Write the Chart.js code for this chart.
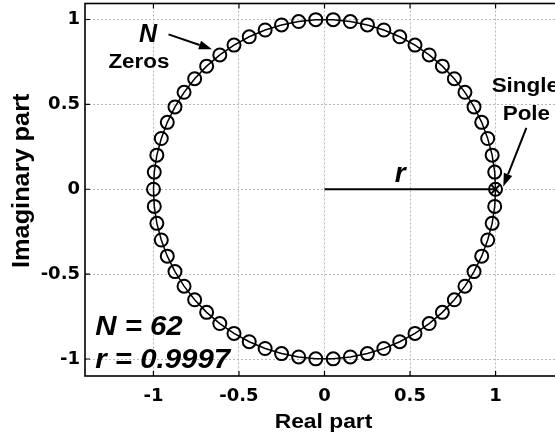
<!DOCTYPE html>
<html>
<head>
<meta charset="utf-8">
<script src="https://cdn.jsdelivr.net/npm/chart.js@4/dist/chart.umd.min.js"></script>
<style>
  html, body { margin: 0; padding: 0; background: #fff; overflow: hidden; }
  #wrap { position: absolute; left: 0; top: -6px; width: 600px; height: 445px; }
  #c { display: block; }
</style>
</head>
<body>
<div id="wrap"><canvas id="c" width="600" height="445"></canvas></div>
<script>
// Zeros of the filter (real and imaginary parts), N evenly spaced on radius r
const zeroReal = [
  0.9997, 0.995, 0.980, 0.954, 0.919, 0.874, 0.821, 0.759, 0.689, 0.612, 0.529,
  0.440, 0.347, 0.251, 0.151, 0.051, -0.051, -0.151, -0.251, -0.347, -0.440,
  -0.529, -0.612, -0.689, -0.759, -0.821, -0.874, -0.919, -0.954, -0.980, -0.995,
  -0.9997, -0.995, -0.980, -0.954, -0.919, -0.874, -0.821, -0.759, -0.689, -0.612,
  -0.529, -0.440, -0.347, -0.251, -0.151, -0.051, 0.051, 0.151, 0.251, 0.347,
  0.440, 0.529, 0.612, 0.689, 0.759, 0.821, 0.874, 0.919, 0.954, 0.980, 0.995
];
const zeroImag = [
  0, 0.101, 0.201, 0.299, 0.394, 0.485, 0.571, 0.651, 0.725, 0.791, 0.849,
  0.898, 0.938, 0.968, 0.988, 0.999, 0.999, 0.988, 0.968, 0.938, 0.898,
  0.849, 0.791, 0.725, 0.651, 0.571, 0.485, 0.394, 0.299, 0.201, 0.101,
  0, -0.101, -0.201, -0.299, -0.394, -0.485, -0.571, -0.651, -0.725, -0.791,
  -0.849, -0.898, -0.938, -0.968, -0.988, -0.999, -0.999, -0.988, -0.968, -0.938,
  -0.898, -0.849, -0.791, -0.725, -0.651, -0.571, -0.485, -0.394, -0.299, -0.201, -0.101
];
// Single pole
const poleReal = [0.9997];
const poleImag = [0];
const zeroCount = 62;
const radiusValue = 0.9997;

// Axis ticks
const xTicks = [-1, -0.5, 0, 0.5, 1];
const xTickLabels = ['-1', '-0.5', '0', '0.5', '1'];
const yTicks = [-1, -0.5, 0, 0.5, 1];
const yTickLabels = ['-1', '-0.5', '0', '0.5', '1'];

const zeroPoints = zeroReal.map((v, i) => ({ x: v, y: zeroImag[i] }));
const circlePoints = zeroPoints.concat([zeroPoints[0]]);
const polePoints = poleReal.map((v, i) => ({ x: v, y: poleImag[i] }));
const radiusPoints = [{ x: 0, y: 0 }, { x: poleReal[0], y: poleImag[0] }];

const SANS = '"Liberation Sans", Arial, Helvetica, sans-serif';

function drawLabel(ctx, text, px, py, font, stretch, align, rot) {
  ctx.save();
  ctx.translate(px, py);
  if (rot) ctx.rotate(rot);
  ctx.scale(stretch, 1);
  ctx.font = font;
  ctx.textAlign = align;
  ctx.textBaseline = 'alphabetic';
  ctx.fillStyle = '#000';
  ctx.fillText(text, 0, 0);
  ctx.restore();
}

function drawArrow(ctx, x1, y1, x2, y2) {
  const ang = Math.atan2(y2 - y1, x2 - x1);
  const head = 13, half = 4.5;
  const bx = x2 - head * Math.cos(ang), by = y2 - head * Math.sin(ang);
  ctx.save();
  ctx.strokeStyle = '#000';
  ctx.fillStyle = '#000';
  ctx.lineWidth = 2;
  ctx.beginPath();
  ctx.moveTo(x1, y1);
  ctx.lineTo(bx, by);
  ctx.stroke();
  ctx.beginPath();
  ctx.moveTo(x2, y2);
  ctx.lineTo(bx + half * Math.sin(ang), by - half * Math.cos(ang));
  ctx.lineTo(bx - half * Math.sin(ang), by + half * Math.cos(ang));
  ctx.closePath();
  ctx.fill();
  ctx.restore();
}

const overlay = {
  id: 'overlay',
  afterDraw(chart) {
    const { ctx, chartArea: a, scales: { x, y } } = chart;
    const X = v => x.getPixelForValue(v);
    const Y = v => y.getPixelForValue(v);
    ctx.save();
    // axes box
    ctx.strokeStyle = '#000';
    ctx.lineWidth = 1.6;
    ctx.strokeRect(a.left, a.top + 1, a.right - a.left, a.bottom - a.top - 1);
    // inward tick marks on all sides
    ctx.lineWidth = 1.2;
    ctx.beginPath();
    xTicks.forEach(v => {
      const px = X(v);
      ctx.moveTo(px, a.bottom); ctx.lineTo(px, a.bottom - 5);
      ctx.moveTo(px, a.top + 1); ctx.lineTo(px, a.top + 6);
    });
    yTicks.forEach(v => {
      const py = Y(v);
      ctx.moveTo(a.left, py); ctx.lineTo(a.left + 5, py);
      ctx.moveTo(a.right, py); ctx.lineTo(a.right - 5, py);
    });
    ctx.stroke();
    ctx.restore();

    // axis titles
    drawLabel(ctx, 'Real part', (a.left + a.right) / 2 - 1, a.bottom + 51.5, 'bold 21px ' + SANS, 1.087, 'center');
    drawLabel(ctx, 'Imaginary part', 28.5, Y(0.05), 'bold 23px ' + SANS, 1.10, 'center', -Math.PI / 2);

    // annotations
    drawLabel(ctx, 'N', X(-1.032), Y(0.868), 'italic bold 25px ' + SANS, 1, 'center');
    drawLabel(ctx, 'Zeros', X(-1.085), Y(0.713), 'bold 20px ' + SANS, 1.12, 'center');
    drawArrow(ctx, X(-0.912), Y(0.912), X(-0.658), Y(0.825));

    drawLabel(ctx, 'Single', X(1.174), Y(0.571), 'bold 21px ' + SANS, 1.07, 'center');
    drawLabel(ctx, 'Pole', X(1.18), Y(0.406), 'bold 21px ' + SANS, 1.07, 'center');
    drawArrow(ctx, X(1.18), Y(0.361), X(1.045), Y(0.016));

    drawLabel(ctx, 'r', X(0.443), Y(0.045), 'italic bold 28px ' + SANS, 1, 'center');
    drawLabel(ctx, 'N = ' + zeroCount, X(-1.34), Y(-0.857), 'italic bold 28px ' + SANS, 1.05, 'left');
    drawLabel(ctx, 'r = ' + radiusValue, X(-1.34), Y(-1.053), 'italic bold 28px ' + SANS, 1.05, 'left');
  }
};

const tickFont = { family: '"DejaVu Sans", sans-serif', size: 18, weight: 'bold' };

new Chart(document.getElementById('c'), {
  type: 'scatter',
  data: {
    datasets: [
      {
        label: 'Pole',
        data: polePoints,
        pointStyle: 'crossRot',
        pointRadius: 6.5,
        borderColor: '#000',
        borderWidth: 2,
        showLine: false,
        order: 0
      },
      {
        label: 'Zeros',
        data: zeroPoints,
        pointStyle: 'circle',
        pointRadius: 6.5,
        backgroundColor: 'rgba(0,0,0,0)',
        borderColor: '#000',
        borderWidth: 2,
        showLine: false,
        order: 1
      },
      {
        label: 'r',
        data: radiusPoints,
        showLine: true,
        pointRadius: 0,
        borderColor: '#000',
        borderWidth: 2,
        order: 2
      },
      {
        label: 'Circle',
        data: circlePoints,
        showLine: true,
        pointRadius: 0,
        borderColor: '#000',
        borderWidth: 1.5,
        tension: 0,
        order: 3
      }
    ]
  },
  options: {
    responsive: false,
    animation: false,
    events: [],
    layout: { padding: { top: 1, right: 36, left: 0, bottom: 0 } },
    plugins: { legend: { display: false }, tooltip: { enabled: false } },
    scales: {
      x: {
        type: 'linear',
        min: -1.4,
        max: 1.4,
        afterBuildTicks: s => { s.ticks = xTicks.map(v => ({ value: v })); },
        afterFit: s => { s.height = 63; s.paddingLeft = 0; s.paddingRight = 0; },
        grid: { color: '#b8b8b8', lineWidth: 1, drawTicks: false },
        border: { display: false, dash: [2, 2] },
        ticks: {
          color: '#000',
          font: tickFont,
          padding: 10,
          maxRotation: 0,
          callback: v => xTickLabels[xTicks.indexOf(v)]
        }
      },
      y: {
        type: 'linear',
        min: -1.1,
        max: 1.1,
        afterBuildTicks: s => { s.ticks = yTicks.map(v => ({ value: v })); },
        afterFit: s => { s.width = 85; s.paddingTop = 0; s.paddingBottom = 0; },
        grid: { color: '#b8b8b8', lineWidth: 1, drawTicks: false },
        border: { display: false, dash: [2, 2] },
        ticks: {
          color: '#000',
          font: tickFont,
          padding: 5,
          callback: v => yTickLabels[yTicks.indexOf(v)]
        }
      }
    }
  },
  plugins: [overlay]
});
</script>
</body>
</html>
